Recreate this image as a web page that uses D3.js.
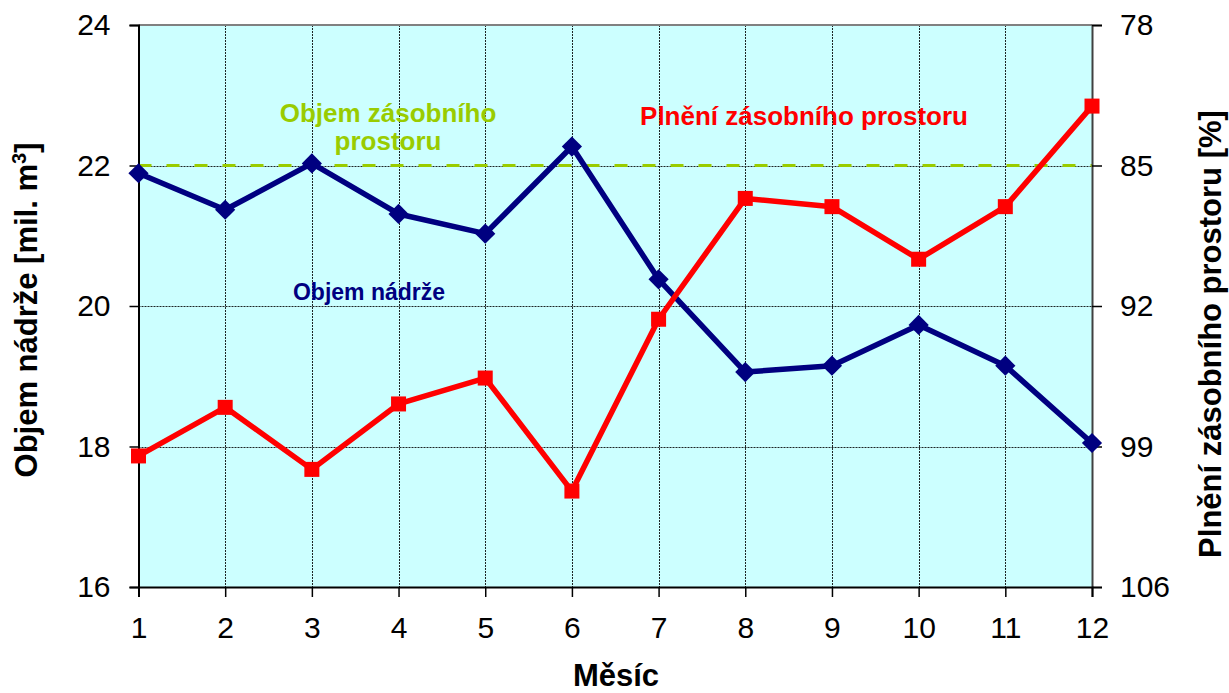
<!DOCTYPE html>
<html>
<head>
<meta charset="utf-8">
<script src="https://cdn.jsdelivr.net/npm/d3@7"></script>
<style>
  html, body { margin: 0; padding: 0; background: #ffffff; }
  svg { display: block; font-family: "Liberation Sans", Arial, sans-serif; }
</style>
</head>
<body>
<svg id="chart" width="1229" height="693"></svg>
<script>
// Months on the x axis
const months = [1, 2, 3, 4, 5, 6, 7, 8, 9, 10, 11, 12];
// Reservoir volume [mil. m3] (left axis)
const objemNadrze = [21.89, 21.37, 22.03, 21.31, 21.03, 22.27, 20.38, 19.06, 19.15, 19.73, 19.15, 18.05];
// Filling of the storage space [%] (right axis, reversed)
const plneni = [99.47, 97.05, 100.14, 96.88, 95.59, 101.22, 92.66, 86.64, 87.05, 89.67, 87.05, 82.04];
// Storage space volume (reference line on left axis)
const objemZasobnihoProstoru = 22;
// Axis ticks
const leftTicks = [16, 18, 20, 22, 24];
const rightTicks = [78, 85, 92, 99, 106];

const svg = d3.select("#chart");
const m = { left: 138.5, right: 1092, top: 25, bottom: 587 };

const x = d3.scaleLinear().domain([1, 12]).range([m.left, m.right]);
const yL = d3.scaleLinear().domain([16, 24]).range([m.bottom, m.top]);
const yR = d3.scaleLinear().domain([78, 106]).range([m.top, m.bottom]);

// Plot background
svg.append("rect")
  .attr("x", m.left).attr("y", m.top)
  .attr("width", m.right - m.left).attr("height", m.bottom - m.top)
  .attr("fill", "#ccffff");

// Gridlines
const grid = svg.append("g").attr("stroke", "#000").attr("stroke-width", 1)
  .attr("stroke-dasharray", "2,1").attr("opacity", 0.85);
grid.selectAll("line.h").data(leftTicks.filter(d => d > 16 && d < 24)).join("line")
  .attr("x1", m.left).attr("x2", m.right)
  .attr("y1", d => Math.round(yL(d)) + 0.5).attr("y2", d => Math.round(yL(d)) + 0.5);
grid.selectAll("line.v").data(months.filter(d => d > 1 && d < 12)).join("line")
  .attr("y1", m.top).attr("y2", m.bottom)
  .attr("x1", d => Math.round(x(d)) + 0.5).attr("x2", d => Math.round(x(d)) + 0.5);

// Plot frame (top)
svg.append("line").attr("x1", m.left).attr("x2", m.right).attr("y1", m.top).attr("y2", m.top)
  .attr("stroke", "#808080").attr("stroke-width", 2);

// Reference line: storage space volume
svg.append("line")
  .attr("x1", m.left).attr("x2", m.right)
  .attr("y1", yL(objemZasobnihoProstoru)).attr("y2", yL(objemZasobnihoProstoru))
  .attr("stroke", "#99cc00").attr("stroke-width", 3).attr("stroke-dasharray", "13,15");

// Axes
const fontTick = 30;
const axL = svg.append("g").attr("transform", `translate(${m.left},0)`)
  .call(d3.axisLeft(yL).tickValues(leftTicks).tickSize(9).tickPadding(19).tickFormat(d3.format("d")));
const axR = svg.append("g").attr("transform", `translate(${m.right},0)`)
  .call(d3.axisRight(yR).tickValues(rightTicks).tickSize(10).tickPadding(18).tickFormat(d3.format("d")));
const axB = svg.append("g").attr("transform", `translate(0,${m.bottom})`)
  .call(d3.axisBottom(x).tickValues(months).tickSize(10).tickPadding(20).tickFormat(d3.format("d")));

[axL, axR, axB].forEach(a => {
  a.select(".domain").attr("stroke", "#000").attr("stroke-width", 2);
  a.selectAll(".tick line").attr("stroke", "#000").attr("stroke-width", 1.5);
  a.selectAll(".tick text").attr("font-size", fontTick).attr("fill", "#000")
    .attr("font-family", "Liberation Sans, Arial, sans-serif");
});
axR.select(".domain").attr("stroke", "#404040");

// Series: reservoir volume (blue, diamonds)
const lineL = d3.line().x((d, i) => x(months[i])).y(d => yL(d));
svg.append("path").datum(objemNadrze)
  .attr("d", lineL).attr("fill", "none").attr("stroke", "#000080").attr("stroke-width", 5.5)
  .attr("stroke-linejoin", "round");
svg.append("g").selectAll("path").data(objemNadrze).join("path")
  .attr("d", d3.symbol(d3.symbolDiamond2, 260)())
  .attr("transform", (d, i) => `translate(${x(months[i])},${yL(d)})`)
  .attr("fill", "#000080");

// Series: filling (red, squares)
const lineR = d3.line().x((d, i) => x(months[i])).y(d => yR(d));
svg.append("path").datum(plneni)
  .attr("d", lineR).attr("fill", "none").attr("stroke", "#ff0000").attr("stroke-width", 5.5)
  .attr("stroke-linejoin", "round");
svg.append("g").selectAll("rect").data(plneni).join("rect")
  .attr("x", (d, i) => x(months[i]) - 7.5).attr("y", d => yR(d) - 7.5)
  .attr("width", 15).attr("height", 15).attr("fill", "#ff0000");

// In-chart labels
const lab = svg.append("g").attr("font-weight", "bold").attr("text-anchor", "middle");
lab.append("text").attr("x", 388).attr("y", 122).attr("font-size", 26).attr("fill", "#99cc00")
  .text("Objem zásobního");
lab.append("text").attr("x", 388).attr("y", 150).attr("font-size", 26).attr("fill", "#99cc00")
  .text("prostoru");
lab.append("text").attr("x", 804).attr("y", 125).attr("font-size", 26).attr("fill", "#ff0000")
  .text("Plnění zásobního prostoru");
lab.append("text").attr("x", 369).attr("y", 300).attr("font-size", 23).attr("fill", "#000080")
  .text("Objem nádrže");

// Axis titles
const titles = svg.append("g").attr("font-weight", "bold").attr("font-size", 31)
  .attr("text-anchor", "middle").attr("fill", "#000");
titles.append("text").attr("x", 616).attr("y", 686).text("Měsíc");
const tl = titles.append("text").attr("transform", "translate(37,310) rotate(-90)");
tl.append("tspan").text("Objem nádrže [mil. m");
tl.append("tspan").attr("font-size", 20).attr("dy", -11).text("3");
tl.append("tspan").attr("dy", 11).text("]");
titles.append("text").attr("transform", "translate(1221,334) rotate(-90)")
  .text("Plnění zásobního prostoru [%]");
</script>
</body>
</html>
